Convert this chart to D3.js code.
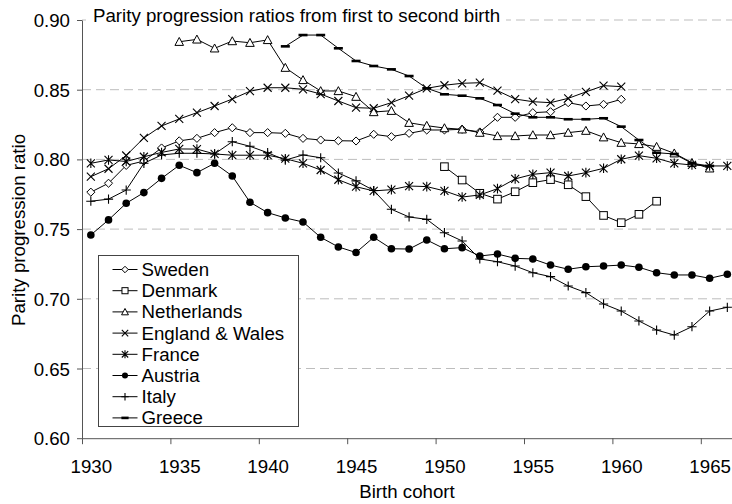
<!DOCTYPE html>
<html>
<head>
<meta charset="utf-8">
<script src="https://cdn.jsdelivr.net/npm/d3@7"></script>
<style>
  body { margin: 0; background: #fff; }
  text { font-family: "Liberation Sans", Arial, sans-serif; fill: #000; }
</style>
</head>
<body>
<svg id="chart" width="732" height="504"></svg>
<script>
// values, one per birth cohort, first cohort given by *Start
const sweden = [0.7765, 0.7829, 0.7957, 0.7988, 0.8082, 0.8133, 0.8151, 0.8192, 0.8227, 0.8192,
  0.8192, 0.8187, 0.8151, 0.8139, 0.8134, 0.8132, 0.8180, 0.8163, 0.8187, 0.8211,
  0.8211, 0.8216, 0.8197, 0.8302, 0.8302, 0.8335, 0.8342, 0.8407, 0.8383, 0.8395, 0.8431];
const swedenStart = 1930;
const denmark = [0.7948, 0.7852, 0.7757, 0.7715, 0.7768, 0.7833, 0.7855, 0.7818, 0.7733, 0.7598,
  0.7546, 0.7606, 0.7700];
const denmarkStart = 1950;
const netherlands = [0.8844, 0.8861, 0.8797, 0.8849, 0.8837, 0.8857, 0.8658, 0.8570, 0.8491, 0.8491,
  0.8450, 0.8340, 0.8349, 0.8263, 0.8242, 0.8225, 0.8216, 0.8192, 0.8168, 0.8168,
  0.8175, 0.8175, 0.8192, 0.8206, 0.8159, 0.8120, 0.8111, 0.8091, 0.8044, 0.7976, 0.7936];
const netherlandsStart = 1935;
const englandWales = [0.7876, 0.7933, 0.8028, 0.8154, 0.8240, 0.8290, 0.8335, 0.8383, 0.8433, 0.8489,
  0.8514, 0.8514, 0.8503, 0.8469, 0.8419, 0.8371, 0.8367, 0.8407, 0.8457, 0.8510,
  0.8532, 0.8546, 0.8550, 0.8493, 0.8433, 0.8414, 0.8407, 0.8438, 0.8484, 0.8529, 0.8522];
const englandWalesStart = 1930;
const france = [0.7972, 0.7996, 0.7985, 0.8019, 0.8050, 0.8075, 0.8074, 0.8039, 0.8030, 0.8030,
  0.8030, 0.8005, 0.7972, 0.7924, 0.7854, 0.7804, 0.7774, 0.7783, 0.7809, 0.7805,
  0.7774, 0.7730, 0.7745, 0.7790, 0.7860, 0.7893, 0.7905, 0.7881, 0.7905, 0.7936,
  0.8001, 0.8027, 0.8008, 0.7972, 0.7960, 0.7953, 0.7953];
const franceStart = 1930;
const austria = [0.7458, 0.7566, 0.7685, 0.7762, 0.7864, 0.7958, 0.7905, 0.7972, 0.7881, 0.7693,
  0.7618, 0.7580, 0.7551, 0.7441, 0.7372, 0.7332, 0.7441, 0.7359, 0.7357, 0.7422,
  0.7359, 0.7367, 0.7307, 0.7321, 0.7290, 0.7286, 0.7242, 0.7212, 0.7230, 0.7235,
  0.7242, 0.7226, 0.7187, 0.7171, 0.7171, 0.7147, 0.7176];
const austriaStart = 1930;
const italy = [0.7700, 0.7715, 0.7780, 0.7972, 0.8032, 0.8044, 0.8044, 0.8039, 0.8127, 0.8094,
  0.8048, 0.7995, 0.8032, 0.8012, 0.7902, 0.7846, 0.7777, 0.7642, 0.7587, 0.7570,
  0.7474, 0.7415, 0.7286, 0.7266, 0.7235, 0.7187, 0.7159, 0.7092, 0.7044, 0.6963,
  0.6912, 0.6841, 0.6776, 0.6740, 0.6800, 0.6912, 0.6939];
const italyStart = 1930;
const greece = [0.8811, 0.8892, 0.8892, 0.8797, 0.8706, 0.8670, 0.8646, 0.8598, 0.8510,
  0.8467, 0.8457, 0.8438, 0.8390, 0.8328, 0.8302, 0.8302, 0.8288, 0.8288, 0.8295,
  0.8235, 0.8139, 0.8048, 0.8039, 0.7972, 0.7953];
const greeceStart = 1941;

const countries = ["Sweden", "Denmark", "Netherlands", "England & Wales", "France", "Austria", "Italy", "Greece"];
const markers = ["diamond", "square", "triangle", "cross", "asterisk", "dot", "plus", "dash"];
const xTicks = [1930, 1935, 1940, 1945, 1950, 1955, 1960, 1965];
const yTicks = [0.60, 0.65, 0.70, 0.75, 0.80, 0.85, 0.90];

const series = [
  [sweden, swedenStart], [denmark, denmarkStart], [netherlands, netherlandsStart],
  [englandWales, englandWalesStart], [france, franceStart], [austria, austriaStart],
  [italy, italyStart], [greece, greeceStart]
].map(function(s, i) {
  return {
    name: countries[i],
    marker: markers[i],
    points: s[0].map(function(v, j) { return [s[1] + j, v]; })
  };
});

const svg = d3.select("#chart");
const plotLeft = 82, plotTop = 20, plotBottom = 438.2;

const x = d3.scaleLinear().domain([1930, 1967]).range([plotLeft, plotLeft + 37 * 17.68]);
const y = d3.scaleLinear().domain([0.60, 0.90]).range([plotBottom, plotTop]);

// dashed gridlines
svg.append("g").selectAll("line")
  .data(yTicks.filter(function(d) { return d > 0.6; }))
  .enter().append("line")
  .attr("x1", plotLeft).attr("x2", 732)
  .attr("y1", function(d) { return y(d); })
  .attr("y2", function(d) { return y(d); })
  .attr("stroke", "#bdbdbd")
  .attr("stroke-width", 1)
  .attr("stroke-dasharray", "9,5");

// title sits on the top gridline, with a white box behind it
svg.append("rect").attr("x", 86).attr("y", 6).attr("width", 420).attr("height", 22).attr("fill", "#fff");
svg.append("text").attr("x", 93).attr("y", 21.5)
  .style("font-size", "18.7px")
  .text("Parity progression ratios from first to second birth");

// axes: ticks sit between cohorts, labels in the middle of the cohort
const xAxis = svg.append("g")
  .attr("transform", "translate(0," + plotBottom + ")")
  .call(d3.axisBottom(x).tickValues(xTicks).tickFormat(d3.format("d"))
    .tickSize(6).tickSizeOuter(0).tickPadding(16));
xAxis.selectAll(".tick text").attr("x", x(1930.5) - x(1930));
const yAxis = svg.append("g")
  .attr("transform", "translate(" + plotLeft + ",0)")
  .call(d3.axisLeft(y).tickValues(yTicks).tickFormat(d3.format(".2f"))
    .tickSize(5).tickSizeOuter(0).tickPadding(7));
[xAxis, yAxis].forEach(function(a) {
  a.selectAll("path, line").attr("stroke", "#555").attr("stroke-width", 1);
  a.selectAll("text").style("font-size", "18.7px").attr("fill", "#000");
});
yAxis.selectAll("text").attr("dy", "0.35em");

svg.append("text").attr("x", 407).attr("y", 498)
  .attr("text-anchor", "middle").style("font-size", "18.7px").text("Birth cohort");
svg.append("text")
  .attr("transform", "translate(25,230) rotate(-90)")
  .attr("text-anchor", "middle").style("font-size", "18.7px").text("Parity progression ratio");

// marker drawing
function drawMarker(g, type, s) {
  const k = s || 1;
  if (type === "diamond") {
    g.append("path").attr("d", d3.symbol().type(d3.symbolDiamond2).size(42 * k * k)())
      .attr("fill", "#fff").attr("stroke", "#000");
  } else if (type === "square") {
    g.append("rect").attr("x", -3.8 * k).attr("y", -3.8 * k)
      .attr("width", 7.6 * k).attr("height", 7.6 * k)
      .attr("fill", "#fff").attr("stroke", "#000");
  } else if (type === "triangle") {
    const h = 4.3 * k;
    g.append("path").attr("d", "M0," + (-h) + "L" + h + "," + (h * 0.85) + "L" + (-h) + "," + (h * 0.85) + "Z")
      .attr("fill", "#fff").attr("stroke", "#000");
  } else if (type === "cross" || type === "asterisk") {
    const h = 4 * k;
    let d = "M" + (-h) + "," + (-h) + "L" + h + "," + h + "M" + (-h) + "," + h + "L" + h + "," + (-h);
    if (type === "asterisk") d += "M0," + (-h - 0.8) + "L0," + (h + 0.8);
    g.append("path").attr("d", d).attr("stroke", "#000").attr("stroke-width", 1.1).attr("fill", "none");
  } else if (type === "dot") {
    g.append("circle").attr("r", 3.8 * k).attr("fill", "#000");
  } else if (type === "plus") {
    const h = 4.6 * k;
    g.append("path").attr("d", "M" + (-h) + ",0L" + h + ",0M0," + (-h) + "L0," + h)
      .attr("stroke", "#000").attr("stroke-width", 1.1);
  } else if (type === "dash") {
    g.append("rect").attr("x", -4.5 * k).attr("y", -1.3).attr("width", 9 * k).attr("height", 2.6)
      .attr("fill", "#000");
  }
}

const line = d3.line()
  .x(function(d) { return x(d[0] + 0.5); })
  .y(function(d) { return y(d[1]); });

const plot = svg.append("g");
series.forEach(function(s) {
  const g = plot.append("g");
  g.append("path").datum(s.points)
    .attr("d", line).attr("fill", "none").attr("stroke", "#000").attr("stroke-width", 1);
  g.selectAll("g.m").data(s.points).enter().append("g")
    .attr("class", "m")
    .attr("transform", function(d) { return "translate(" + x(d[0] + 0.5) + "," + y(d[1]) + ")"; })
    .each(function() { drawMarker(d3.select(this), s.marker, 1); });
});

// legend
const legend = svg.append("g");
legend.append("rect").attr("x", 98.5).attr("y", 255.5).attr("width", 200).attr("height", 171)
  .attr("fill", "#fff").attr("stroke", "#444").attr("stroke-width", 1);
series.forEach(function(s, i) {
  const cy = 269.5 + i * 21.2;
  const row = legend.append("g").attr("transform", "translate(0," + cy + ")");
  row.append("line").attr("x1", 112.5).attr("x2", 137.5).attr("y1", 0).attr("y2", 0)
    .attr("stroke", "#000").attr("stroke-width", 1);
  drawMarker(row.append("g").attr("transform", "translate(125,0)"), s.marker, 0.8);
  row.append("text").attr("x", 141.5).attr("y", 6.5).style("font-size", "18.7px").text(s.name);
});
</script>
</body>
</html>
